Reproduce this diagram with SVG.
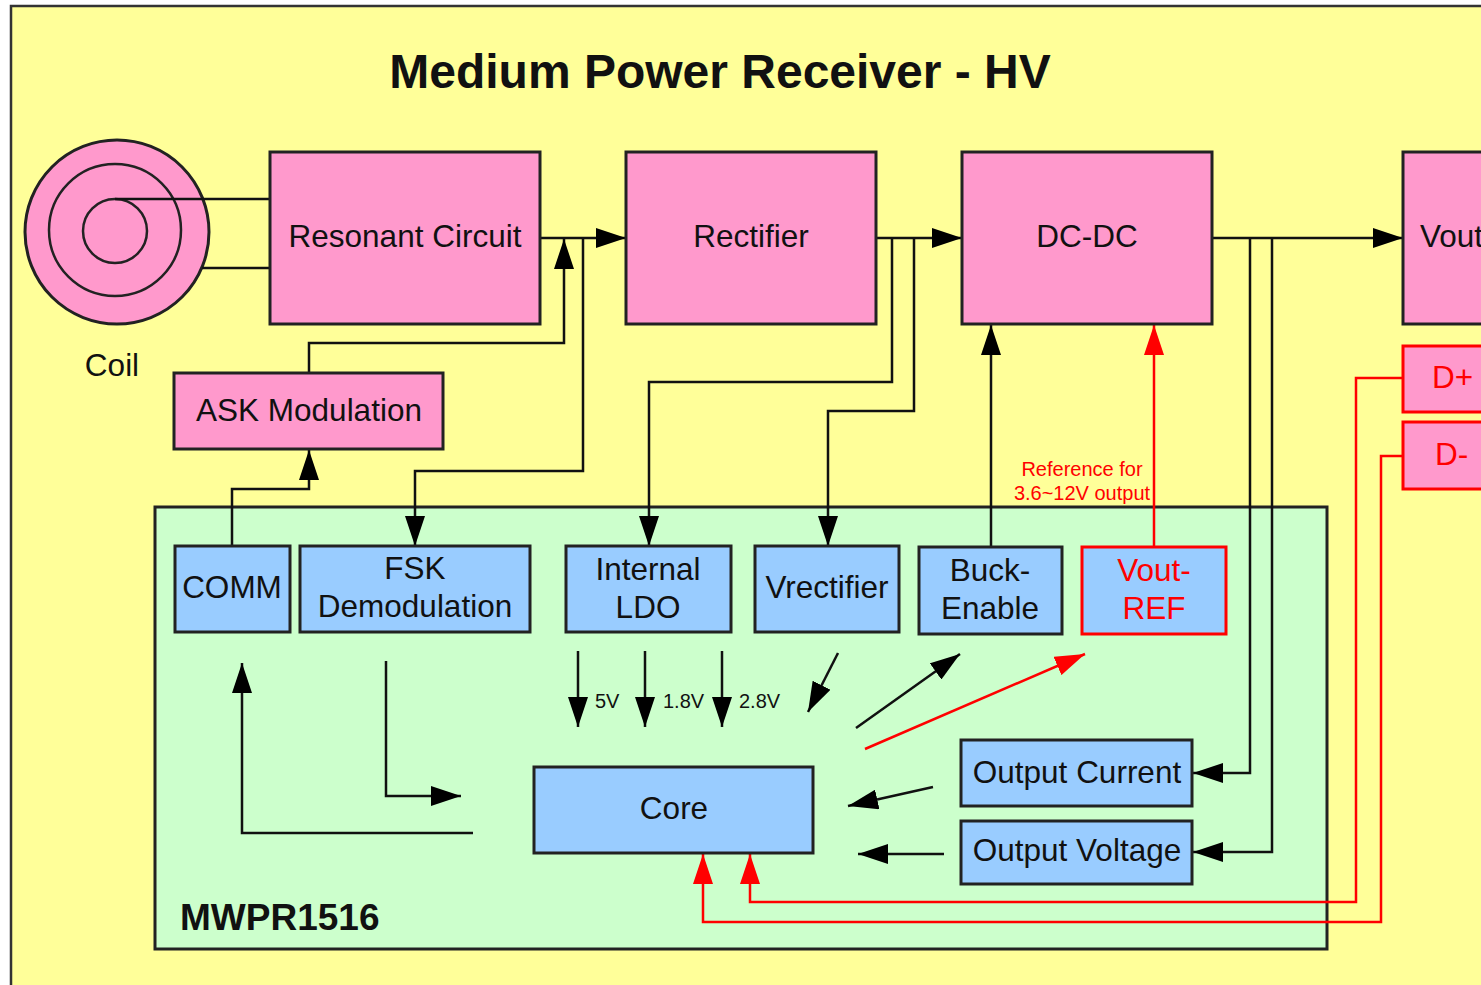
<svg xmlns="http://www.w3.org/2000/svg" width="1481" height="985" viewBox="0 0 1481 985">
<style>
text{font-family:"Liberation Sans",Arial,Helvetica,sans-serif;fill:#111;}
.t{font-size:31.5px;text-anchor:middle;}
.s{font-size:20px;}
.red{fill:#FF0000;}
.pink{fill:#FF99CC;stroke:#222;stroke-width:3;}
.blue{fill:#99CCFF;stroke:#222;stroke-width:3;}
.redbox{stroke:#FF0000;}
.c{fill:none;stroke:#111;stroke-width:2.5;}
.cr{fill:none;stroke:#FF0000;stroke-width:2.5;}
.a{marker-end:url(#ah);}
.ar{marker-end:url(#ahr);}
</style>
<defs>
<marker id="ah" markerUnits="userSpaceOnUse" markerWidth="30" markerHeight="20" refX="30" refY="10" orient="auto"><path d="M0,0 L30,10 L0,20 z" fill="#000"/></marker>
<marker id="ahr" markerUnits="userSpaceOnUse" markerWidth="30" markerHeight="20" refX="30" refY="10" orient="auto"><path d="M0,0 L30,10 L0,20 z" fill="#FF0000"/></marker>
</defs>
<rect x="0" y="0" width="1481" height="985" fill="#FFFFFF"/>
<rect x="11" y="6" width="1500" height="1010" fill="#FFFF99" stroke="#333" stroke-width="2.5"/>
<text x="720" y="88" font-size="48" font-weight="bold" text-anchor="middle">Medium Power Receiver - HV</text>

<g id="coil">
<circle cx="117" cy="232" r="92" fill="#FF99CC" stroke="#222" stroke-width="3"/>
<circle cx="115" cy="230" r="66" fill="none" stroke="#222" stroke-width="2.5"/>
<circle cx="115" cy="231" r="32" fill="none" stroke="#222" stroke-width="2.5"/>
<text class="t" x="112" y="376">Coil</text>
</g>

<g id="mwpr1516">
<rect x="155" y="507" width="1172" height="442" fill="#CCFFCC" stroke="#222" stroke-width="3"/>
<text x="180" y="930" font-size="37" font-weight="bold">MWPR1516</text>
</g>

<g id="connectors">
<path class="c" d="M115,199 H270"/>
<path class="c" d="M202,268 H270"/>
<path class="c a" d="M540,238 H626"/>
<path class="c a" d="M309,373 V343 H564 V239"/>
<path class="c a" d="M583,238 V471 H415 V546"/>
<path class="c a" d="M876,238 H962"/>
<path class="c a" d="M892,238 V382 H649 V546"/>
<path class="c a" d="M914,238 V411 H828 V546"/>
<path class="c a" d="M1212,238 H1403"/>
<path class="c a" d="M1250,238 V773 H1193"/>
<path class="c a" d="M1272,238 V852 H1193"/>
<path class="c a" d="M232,546 V489 H309 V450"/>
<path class="c a" d="M991,547 V325"/>
<path class="c a" d="M578,651 V727"/>
<path class="c a" d="M645,651 V727"/>
<path class="c a" d="M722,651 V727"/>
<path class="c a" d="M838,653 L808,712"/>
<path class="c a" d="M856,728 L960,654"/>
<path class="c a" d="M933,787 L848,806"/>
<path class="c a" d="M944,854 L858,854"/>
<path class="c a" d="M473,833 H242 V663"/>
<path class="c a" d="M386,661 V796 H461"/>
<path class="cr ar" d="M1154,547 V325"/>
<path class="cr ar" d="M865,749 L1085,654"/>
<path class="cr ar" d="M1403,378 H1356 V902 H750 V854"/>
<path class="cr ar" d="M1403,456 H1381 V922 H703 V854"/>
<text class="s" x="595" y="708">5V</text>
<text class="s" x="663" y="708">1.8V</text>
<text class="s" x="739" y="708">2.8V</text>
<text class="s red" x="1082" y="476" text-anchor="middle">Reference for</text>
<text class="s red" x="1082" y="500" text-anchor="middle">3.6~12V output</text>
</g>

<g id="resonant-circuit">
<rect class="pink" x="270" y="152" width="270" height="172"/>
<text class="t" x="405" y="247">Resonant Circuit</text>
</g>
<g id="rectifier">
<rect class="pink" x="626" y="152" width="250" height="172"/>
<text class="t" x="751" y="247">Rectifier</text>
</g>
<g id="dc-dc">
<rect class="pink" x="962" y="152" width="250" height="172"/>
<text class="t" x="1087" y="247">DC-DC</text>
</g>
<g id="vout">
<rect class="pink" x="1403" y="152" width="250" height="172"/>
<text x="1420" y="247" font-size="31.5">Vout</text>
</g>
<g id="d-plus">
<rect class="pink redbox" x="1403" y="346" width="120" height="66"/>
<text class="red" x="1432" y="388" font-size="31.5">D+</text>
</g>
<g id="d-minus">
<rect class="pink redbox" x="1403" y="422" width="120" height="67"/>
<text class="red" x="1435" y="465" font-size="31.5">D-</text>
</g>
<g id="ask-modulation">
<rect class="pink" x="174" y="373" width="269" height="76"/>
<text class="t" x="309" y="421">ASK Modulation</text>
</g>

<g id="comm">
<rect class="blue" x="175" y="546" width="115" height="86"/>
<text class="t" x="232" y="598">COMM</text>
</g>
<g id="fsk-demodulation">
<rect class="blue" x="300" y="546" width="230" height="86"/>
<text class="t" x="415" y="579">FSK</text>
<text class="t" x="415" y="617">Demodulation</text>
</g>
<g id="internal-ldo">
<rect class="blue" x="566" y="546" width="165" height="86"/>
<text class="t" x="648" y="580">Internal</text>
<text class="t" x="648" y="618">LDO</text>
</g>
<g id="vrectifier">
<rect class="blue" x="755" y="546" width="144" height="86"/>
<text class="t" x="827" y="598">Vrectifier</text>
</g>
<g id="buck-enable">
<rect class="blue" x="919" y="547" width="143" height="87"/>
<text class="t" x="990" y="581">Buck-</text>
<text class="t" x="990" y="619">Enable</text>
</g>
<g id="vout-ref">
<rect class="blue redbox" x="1082" y="547" width="144" height="87"/>
<text class="t red" x="1154" y="581">Vout-</text>
<text class="t red" x="1154" y="619">REF</text>
</g>
<g id="core">
<rect class="blue" x="534" y="767" width="279" height="86"/>
<text class="t" x="674" y="819">Core</text>
</g>
<g id="output-current">
<rect class="blue" x="961" y="740" width="231" height="66"/>
<text class="t" x="1077" y="783">Output Current</text>
</g>
<g id="output-voltage">
<rect class="blue" x="961" y="821" width="231" height="63"/>
<text class="t" x="1077" y="861">Output Voltage</text>
</g>
</svg>
